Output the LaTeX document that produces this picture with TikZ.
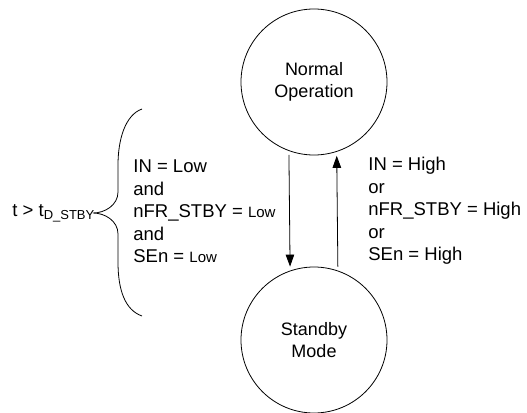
\documentclass[tikz,border=0pt]{standalone}
\usepackage{fontspec}
\setmainfont{Liberation Sans}
\usetikzlibrary{arrows.meta,positioning,calc}
\begin{document}
\begin{tikzpicture}[x=1pt,y=-1pt,line width=0.8pt,
  state/.style={draw,circle,minimum size=146pt,inner sep=0pt,align=center,font=\fontsize{18}{22}\selectfont},
  cond/.style={align=left,inner sep=0pt,font=\fontsize{18.5}{22.5}\selectfont},
  trans/.style={-{Triangle[length=12pt,width=8.5pt]},shorten <=4pt,shorten >=4pt}]
\useasboundingbox (0,0) rectangle (527,412);
\node[state] (normal) at (314,82) {Normal\\Operation};
\node[state] (standby) at (314,340) {Standby\\Mode};
\draw[trans] (normal.250.8) -- (standby.109.2);
\draw[trans] (standby.71.6) -- (normal.288.4);
\node[cond,anchor=west] (low) at (133,211.5) {IN = Low\\and\\nFR\_STBY = {\fontsize{15}{15}\selectfont Low}\\and\\SEn = {\fontsize{15}{15}\selectfont Low}};
\node[cond,anchor=west] (high) at (368,211) {IN = High\\or\\nFR\_STBY = High\\or\\SEn = High};
\node[cond,anchor=west] (timer) at (12,213) {t > t\raisebox{-0.3ex}{\fontsize{13}{13}\selectfont D\_STBY}};
\coordinate (tip) at (93,213);
\draw (142,109) .. controls (125,115) and (118,140) .. (118,165) -- (118,192)
  .. controls (118,205) and (105,213) .. (tip)
  .. controls (105,213) and (118,221) .. (118,234) -- (118,262)
  .. controls (118,290) and (125,310) .. (142,316);
\end{tikzpicture}
\end{document}
